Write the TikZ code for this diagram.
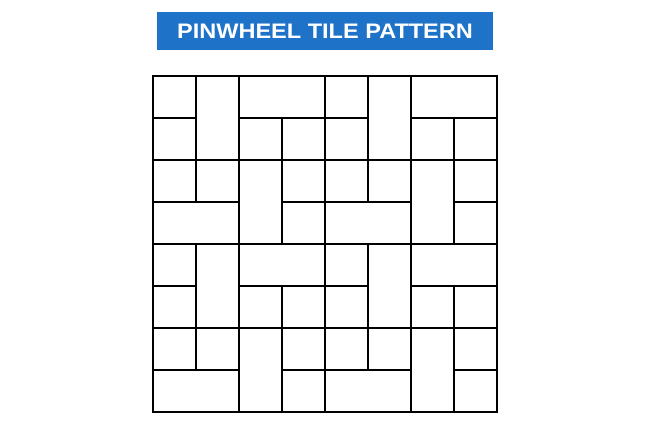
\documentclass[tikz,border=0pt]{standalone}
\usepackage{fontspec}
\newfontfamily\titlefont{Liberation Sans}
\definecolor{titleblue}{HTML}{1E73C8}
\tikzset{
  tile/.style={draw=black, line width=2pt, line join=miter},
  titlebox/.style={fill=titleblue, minimum width=336pt, minimum height=38pt, inner sep=0pt,
    text=white, font=\titlefont\bfseries\fontsize{21}{21}\selectfont}
}
\begin{document}
\begin{tikzpicture}[x=1pt,y=-1pt]
\useasboundingbox (0,0) rectangle (650,431);
\fill[white] (0,0) rectangle (650,431);
\node[titlebox] (title) at (325,31) {\scalebox{1.12}[1]{PINWHEEL TILE PATTERN}};
\foreach \bx in {0,4} {
  \foreach \by in {0,4} {
    \begin{scope}[shift={(153pt,-76pt)}, x=43pt, y=-42pt, shift={(\bx,\by)}]
      \foreach \c/\r/\w/\h in {0/0/1/1, 0/1/1/1, 1/0/1/2, 2/0/2/1, 2/1/1/1, 3/1/1/1,
                               0/2/1/1, 1/2/1/1, 2/2/1/2, 3/2/1/1, 3/3/1/1, 0/3/2/1} {
        \draw[tile] (\c,\r) rectangle ++(\w,\h);
      }
    \end{scope}
  }
}
\end{tikzpicture}
\end{document}
